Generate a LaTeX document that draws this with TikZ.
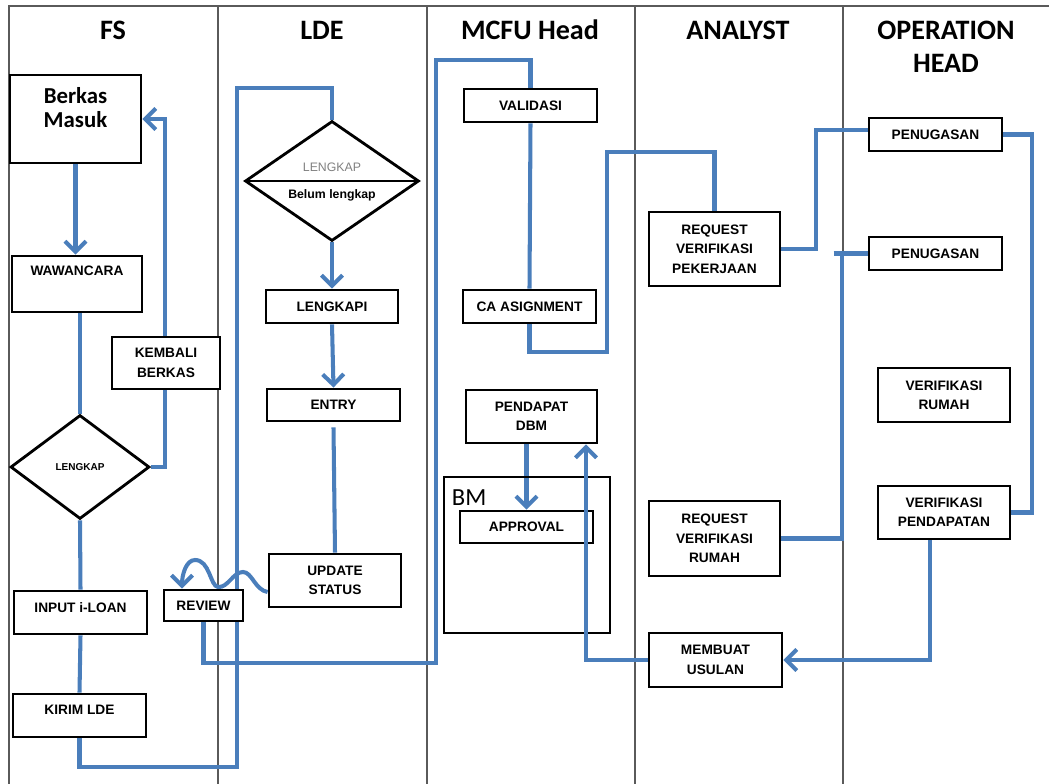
\documentclass[tikz,border=0pt]{standalone}
\usepackage{fontspec}
\setmainfont{Liberation Sans}
\newfontfamily\carlito{Carlito}
\usepackage{xcolor}
\usetikzlibrary{shapes.geometric,arrows.meta,positioning,calc,backgrounds}
\definecolor{flowblue}{HTML}{4A7EBB}
\definecolor{lanegray}{HTML}{5A5A5A}
\newcommand{\boxfont}{\fontsize{7.8}{11}\selectfont\bfseries}
\newcommand{\headfont}{\carlito\fontsize{16}{18.7}\selectfont\bfseries}

\begin{document}
\begin{tikzpicture}[x=0.02cm, y=-0.02cm,
    box/.style={draw, line width=1.6pt, fill=white, font=\boxfont, align=center, inner sep=1pt},
    boxtext/.style={font=\boxfont, align=center},
    boxtitle/.style={font=\carlito\fontsize{13}{14}\selectfont\bfseries, align=center},
    decision/.style={diamond, draw, line width=1.6pt, fill=white, inner sep=0pt},
    flow/.style={draw=flowblue, line width=2.3pt},
    arr/.style={flow, -{Straight Barb[length=6pt,width=12pt]}},
    lane/.style={draw=lanegray, line width=0.8pt},
    head/.style={font=\headfont, align=center}]

    \useasboundingbox (0,0) rectangle (1049,784);

    % Lane titles
    \node[head] (hfs) at (113,30) {FS};
    \node[head] (hlde) at (322,30) {LDE};
    \node[head] (hmcfu) at (530,30) {MCFU Head};
    \node[head] (hanalyst) at (738,30) {ANALYST};
    \node[head] (hops) at (946,46.5) {OPERATION\\HEAD};

    % FS
    \node[box, minimum width=2.62cm, minimum height=1.76cm,
        label={[boxtitle, yshift=0.23cm]center:Berkas\\Masuk}] (masuk) at (75.5,119) {};
    \node[box, minimum width=2.6cm, minimum height=1.12cm,
        label={[boxtext, yshift=0.26cm]center:WAWANCARA}] (wawancara) at (77,284) {};
    \node[box, minimum width=2.16cm, minimum height=1.04cm] (kembali) at (166,363) {KEMBALI\\BERKAS};
    \node[decision, minimum width=2.78cm, minimum height=2.08cm,
        font=\fontsize{5.7}{7}\selectfont\bfseries] (cekfs) at (80,467) {LENGKAP};
    \node[box, minimum width=2.66cm, minimum height=0.86cm,
        label={[boxtext, yshift=0.09cm]center:INPUT i-LOAN}] (input) at (80.5,612.5) {};
    \node[box, minimum width=2.66cm, minimum height=0.86cm,
        label={[boxtext, yshift=0.11cm]center:KIRIM LDE}] (kirim) at (79.5,715.5) {};
    \node[box, minimum width=1.58cm, minimum height=0.62cm] (review) at (203.5,605.5) {REVIEW};

    % LDE
    \node[decision, minimum width=3.48cm, minimum height=2.4cm,
        label={[text=gray, font=\fontsize{7}{8}\selectfont, yshift=0.28cm]center:LENGKAP},
        label={[font=\fontsize{7}{9}\selectfont\bfseries, yshift=-0.28cm]center:Belum lengkap}] (ceklde) at (332,181) {};
    \draw[line width=1.6pt] (ceklde.west) -- (ceklde.east);
    \node[box, minimum width=2.64cm, minimum height=0.66cm] (lengkapi) at (332,306.5) {LENGKAPI};
    \node[box, minimum width=2.66cm, minimum height=0.64cm] (entry) at (333.5,405) {ENTRY};
    \node[box, minimum width=2.64cm, minimum height=1.06cm] (update) at (335,580.5) {UPDATE\\STATUS};

    % MCFU Head
    \node[box, minimum width=2.66cm, minimum height=0.66cm] (validasi) at (530.5,105.5) {VALIDASI};
    \node[box, minimum width=2.66cm, minimum height=0.66cm] (caasg) at (529.5,306.5) {CA ASIGNMENT};
    \node[box, minimum width=2.62cm, minimum height=1.06cm] (dbm) at (531.5,416.5) {PENDAPAT\\DBM};
    \node[draw, line width=1.6pt, minimum width=3.32cm, minimum height=3.12cm] (bmbox) at (527,555) {};
    \node[font=\carlito\fontsize{14}{14}\selectfont, anchor=base west, inner sep=0pt]
        (bm) at ([xshift=0.18cm, yshift=-0.6cm]bmbox.north west) {BM};
    \node[box, minimum width=2.66cm, minimum height=0.64cm] (approval) at (526.5,527) {APPROVAL};

    % Analyst
    \node[box, minimum width=2.62cm, minimum height=1.48cm] (rvp) at (714.5,249) {REQUEST\\VERIFIKASI\\PEKERJAAN};
    \node[box, minimum width=2.62cm, minimum height=1.5cm] (rvr) at (714.5,538.5) {REQUEST\\VERIFIKASI\\RUMAH};
    \node[box, minimum width=2.66cm, minimum height=1.08cm] (usulan) at (715.5,660) {MEMBUAT\\USULAN};

    % Operation Head
    \node[box, minimum width=2.66cm, minimum height=0.66cm] (pen1) at (935.5,134.5) {PENUGASAN};
    \node[box, minimum width=2.66cm, minimum height=0.66cm] (pen2) at (935.5,253.5) {PENUGASAN};
    \node[box, minimum width=2.64cm, minimum height=1.08cm] (vrumah) at (944,395) {VERIFIKASI\\RUMAH};
    \node[box, minimum width=2.64cm, minimum height=1.06cm] (vpend) at (944,512.5) {VERIFIKASI\\PENDAPATAN};

    \begin{pgfonlayer}{background}
        % Lanes
        \draw[lane] (1049,6) -- (9,6) -- (9,784);
        \foreach \x in {218,427,635,843} {\draw[lane] (\x,6) -- (\x,784);}

        % Flow FS
        \draw[arr] (masuk.south) -- (masuk.south |- wawancara.north);
        \draw[flow] (cekfs.north |- wawancara.south) -- (cekfs.north);
        \draw[arr] (cekfs.east) -- ++(14,0) |- (masuk.east);
        \draw[flow] (cekfs.south) -- (input.north);
        \draw[flow] (input.south) -- (kirim.north);
        \draw[flow] (kirim.south) |- (237,767) -- (237,88) -| (ceklde.north);

        % Flow LDE
        \draw[arr] (ceklde.south) -- (lengkapi.north);
        \draw[arr] (lengkapi.south) -- (entry.north);
        \draw[flow] ([yshift=-0.1cm]entry.south) -- (update.north);
        \draw[arr] ([yshift=-0.23cm]update.west) .. controls (255,590) and (252,572) .. (243,572)
            .. controls (233,572) and (228,588) .. (218,587)
            .. controls (210,586) and (210,560) .. (195,560)
            .. controls (186,560) and (182,575) .. ([xshift=-0.43cm]review.north);
        \draw[flow] (review.south) |- (436,663) -- (436,60) -| (validasi.north);

        % Flow MCFU Head
        \draw[flow] (validasi.south) -- (caasg.north);
        \draw[flow] (caasg.south) |- (607,352) -- (607,152) -| (rvp.north);
        \draw[arr] (approval.north |- dbm.south) -- (approval.north);

        % Flow Analyst / Operation Head
        \draw[flow] (rvp.east) -| ([xshift=-1.04cm, yshift=0.09cm]pen1.west) -- ([yshift=0.09cm]pen1.west);
        \draw[flow] (pen1.east) -- ++(29,0) |- (vpend.east);
        \draw[flow] (rvr.east) -| ([xshift=-0.52cm]pen2.west);
        \draw[flow] ([xshift=-0.68cm]pen2.west) -- (pen2.west);
        \draw[arr] ([xshift=-0.28cm]vpend.south) |- (usulan.east);
    \end{pgfonlayer}

    % back to DBM, over the BM box
    \draw[arr] (usulan.west) -| ([xshift=1.09cm]dbm.south);

\end{tikzpicture}
\end{document}
